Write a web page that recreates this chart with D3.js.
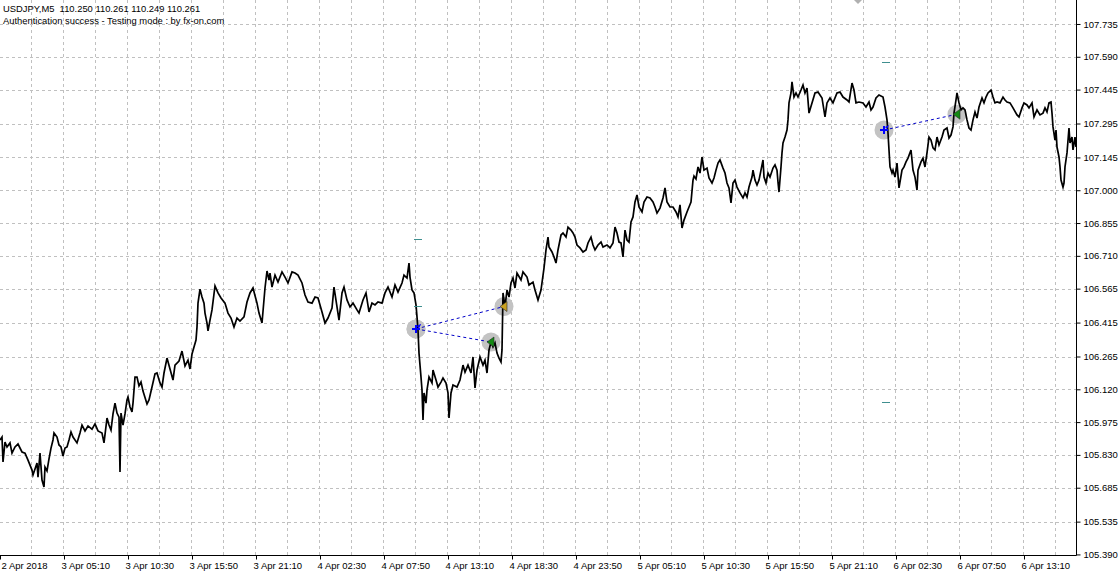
<!DOCTYPE html>
<html><head><meta charset="utf-8">
<script src="https://cdn.jsdelivr.net/npm/d3@7"></script>
<style>
body{margin:0;background:#fff}
svg{display:block}
text{font-family:"Liberation Sans",Arial,sans-serif}
</style>
</head><body>
<svg id="c" width="1118" height="576"></svg>
<script>
// ---------- DATA ----------
const headerLine1 = "USDJPY,M5  110.250 110.261 110.249 110.261";
const headerLine2 = "Authentication success - Testing mode : by fx-on.com";

// price axis labels
const priceTicks = [105.390,105.535,105.685,105.830,105.975,106.120,106.265,106.415,106.565,
  106.710,106.855,107.000,107.145,107.295,107.445,107.590,107.735];

// time axis: bar index (M5 bars from 2 Apr 23:50) and labels
const timeTickBars = [0,64,128,192,256,320,384,448,512,576,640,704,768,832,896,960,1024];
const timeLabels = ["2 Apr 2018","3 Apr 05:10","3 Apr 10:30","3 Apr 15:50","3 Apr 21:10",
  "4 Apr 02:30","4 Apr 07:50","4 Apr 13:10","4 Apr 18:30","4 Apr 23:50","5 Apr 05:10",
  "5 Apr 10:30","5 Apr 15:50","5 Apr 21:10","6 Apr 02:30","6 Apr 07:50","6 Apr 13:10"];

// USDJPY M5 closes: [bar, price]
const closes = [
[0,105.896],[2,105.909],[3,105.799],[5,105.887],[7,105.865],[10,105.883],[12,105.838],[15,105.865],[18,105.878],[22,105.843],
[25,105.838],[28,105.807],[32,105.763],[33,105.741],[37,105.794],[38,105.732],[40,105.838],[42,105.719],[44,105.688],[45,105.776],
[47,105.759],[49,105.812],[51,105.860],[53,105.896],[54,105.927],[57,105.909],[59,105.874],[61,105.865],[63,105.825],[65,105.860],
[67,105.865],[69,105.896],[71,105.931],[73,105.909],[77,105.883],[80,105.927],[82,105.962],[85,105.936],[88,105.958],[92,105.944],
[95,105.967],[98,105.936],[102,105.927],[104,105.883],[107,105.993],[109,105.962],[111,105.940],[113,106.011],[115,106.059],[117,106.015],
[119,105.997],[120,105.754],[121,106.015],[123,105.962],[125,106.011],[127,106.073],[128,106.086],[130,106.042],[132,106.020],[133,106.059],
[135,106.174],[137,106.174],[139,106.135],[141,106.152],[143,106.112],[147,106.055],[149,106.073],[152,106.130],[155,106.188],[157,106.192],
[160,106.148],[162,106.130],[164,106.192],[167,106.258],[170,106.210],[173,106.161],[175,106.227],[179,106.245],[182,106.289],[185,106.223],
[188,106.249],[190,106.210],[192,106.276],[194,106.307],[196,106.338],[197,106.395],[198,106.501],[200,106.563],[202,106.528],[204,106.501],
[205,106.457],[207,106.413],[208,106.378],[210,106.426],[212,106.471],[215,106.577],[218,106.546],[221,106.524],[225,106.501],[228,106.457],
[231,106.435],[234,106.395],[237,106.435],[240,106.422],[244,106.440],[247,106.506],[250,106.546],[253,106.568],[257,106.501],[259,106.457],
[262,106.413],[265,106.568],[267,106.643],[269,106.603],
[270,106.634],[272,106.572],[275,106.625],[278,106.594],[282,106.639],[285,106.616],[288,106.590],[292,106.639],[295,106.634],[298,106.625],
[302,106.590],[305,106.537],[308,106.506],[312,106.501],[315,106.528],[318,106.524],[322,106.462],[325,106.413],[328,106.435],[332,106.479],
[334,106.572],[337,106.484],[339,106.426],[342,106.546],[344,106.572],[347,106.515],[350,106.484],[353,106.501],[357,106.471],[359,106.457],
[363,106.515],[366,106.546],[369,106.462],[372,106.501],[375,106.493],[378,106.506],[382,106.501],[385,106.546],[388,106.572],[392,106.528],
[395,106.581],[398,106.550],[402,106.590],[404,106.625],[407,106.612],[409,106.678],[410,106.616],[412,106.559],[414,106.546],[416,106.493],
[417,106.440],[418,106.382],[419,106.280],[421,106.174],[422,106.117],[423,105.984],[424,106.104],[426,106.059],[427,106.117],[429,106.174],
[432,106.148],[433,106.205],[436,106.161],[438,106.130],[441,106.152],[443,106.170],[446,106.148],[448,106.104],[449,105.993],[451,106.104],
[453,106.139],[457,106.130],[460,106.161],[463,106.227],[465,106.196],[468,106.227],[471,106.192],[473,106.263],[475,106.126],[477,106.205],
[480,106.263],[483,106.227],[485,106.249],[487,106.192],[489,106.294],[491,106.329],[493,106.307],[495,106.325],[497,106.280],[499,106.258],
[501,106.241],[502,106.294],[503,106.546],[505,106.484],[507,106.559],[509,106.528],[511,106.590],[513,106.612],[515,106.568],[517,106.634],
[521,106.603],[523,106.639],[527,106.616],[529,106.581],[533,106.594],[535,106.559],[538,106.515],[541,106.559],
[544,106.656],[546,106.736],[548,106.793],[549,106.749],[552,106.727],[554,106.705],[556,106.678],[558,106.736],[561,106.802],[563,106.811],
[566,106.793],[568,106.837],[571,106.824],[573,106.811],[575,106.793],[577,106.758],[580,106.745],[583,106.727],[586,106.736],[588,106.767],
[591,106.793],[593,106.758],[595,106.736],[598,106.758],[601,106.771],[603,106.749],[607,106.758],[610,106.745],[613,106.767],[615,106.837],
[617,106.811],[619,106.771],[621,106.767],[623,106.705],[625,106.824],[627,106.780],[629,106.771],[631,106.860],[633,106.882],[635,106.948],
[637,106.979],[639,106.926],[642,106.904],[644,106.948],[647,106.970],[650,106.966],[653,106.948],[655,106.926],[657,106.899],[660,106.921],
[663,106.966],[665,107.010],[667,106.948],[670,106.926],[673,106.926],[676,106.904],[678,106.882],[680,106.935],[682,106.833],[684,106.868],
[687,106.904],[689,106.926],[691,106.948],[693,107.045],[694,107.063],[696,107.050],[698,107.103],[700,107.076],[702,107.147],[704,107.089],
[707,107.098],[709,107.054],[712,107.032],[714,107.054],[716,107.089],[718,107.120],[720,107.134],[723,107.098],[725,107.076],[727,107.032],
[729,107.010],[731,106.944],[733,107.032],[735,107.045],[737,107.014],[740,106.988],[743,106.966],[745,106.988],[747,106.970],[749,107.014],
[752,107.058],[753,107.089],[755,107.045],[757,107.023],[759,107.045],[761,107.089],[763,107.134],[764,107.058],[766,107.032],[768,107.076],
[770,107.058],[773,107.098],[775,107.112],[777,107.089],[778,107.036],[779,106.992],[781,107.103],[782,107.165],[783,107.209],[785,107.235],
[787,107.266],[788,107.311],[789,107.386],[791,107.430],[792,107.479],[794,107.412],[796,107.430],[798,107.412],[801,107.443],[803,107.465],
[805,107.430],[807,107.452],[809,107.341],[812,107.386],[815,107.430],[818,107.434],[822,107.408],[825,107.324],[827,107.386],[830,107.408],
[833,107.386],[837,107.430],[840,107.434],[843,107.412],[847,107.399],[849,107.390],[852,107.474],[854,107.443],[856,107.386],[859,107.390],
[863,107.386],[866,107.368],[869,107.390],[871,107.355],[873,107.368],[876,107.408],[879,107.421],[883,107.412],[885,107.368],[887,107.311],
[888,107.253],[889,107.178],[890,107.103],[892,107.076],[893,107.089],[895,107.058],[897,107.120],[899,107.010],[902,107.089],[904,107.103],
[906,107.125],[908,107.142],[911,107.178],[913,107.089],[915,107.058],[917,107.001],[918,107.089],[921,107.125],[923,107.142],[925,107.103],
[927,107.165],[929,107.235],[931,107.222],[933,107.187],[935,107.178],[937,107.235],[939,107.200],[942,107.235],[944,107.266],[947,107.275],
[949,107.231],[951,107.244],[953,107.280],[954,107.341],[956,107.399],[957,107.430],[959,107.386],[961,107.355],[963,107.364],[965,107.355],
[967,107.311],[969,107.275],[971,107.266],[973,107.311],[975,107.346],[977,107.319],[979,107.368],[982,107.408],[984,107.386],[986,107.412],
[988,107.430],[991,107.443],[993,107.412],[995,107.386],[997,107.390],[1000,107.386],[1003,107.412],[1005,107.399],[1007,107.390],[1010,107.386],
[1013,107.364],[1017,107.333],[1019,107.324],[1022,107.364],[1024,107.386],[1027,107.377],[1029,107.364],[1032,107.386],[1034,107.324],[1037,107.355],
[1040,107.333],[1043,107.341],[1045,107.364],[1047,107.346],[1049,107.386],[1051,107.390],[1052,107.341],[1053,107.280],[1055,107.222],[1056,107.266],
[1057,107.191],[1059,107.147],[1060,107.103],[1061,107.045],[1063,107.014],[1064,107.032],[1065,107.103],[1067,107.165],[1069,107.275],[1070,107.209],
[1072,107.235],[1073,107.178],[1075,107.235],[1076,107.191]
];

// trades (tester arrows)
const tradeOpenBars   = [416, 416, 884];
const tradeOpenPrices = [106.387, 106.387, 107.266];
const tradeCloseBars   = [504, 491, 957];
const tradeClosePrices = [106.486, 106.329, 107.336];
const tradeCloseKind   = ["profit", "loss", "loss"];
// stop / target levels (short dashes)
const levelBars   = [418, 418, 886, 886];
const levelPrices = [106.784, 106.487, 107.567, 106.064];

// ---------- DRAW ----------
const svg = d3.select("#c");
const plotRight = 1076, plotBottom = 555;
const x = d3.scaleLinear().domain([0, 1076]).range([0, plotRight]);
const y = d3.scaleLinear().domain([105.3875, 107.841]).range([plotBottom, 0]);
const gridColor = "#c0c0c0";

// grid
const g = svg.append("g");
g.selectAll("line.h").data(priceTicks.filter(p => p > 105.4)).join("line")
  .attr("x1", 0).attr("x2", plotRight)
  .attr("y1", d => Math.round(y(d)) + 0.5).attr("y2", d => Math.round(y(d)) + 0.5)
  .attr("stroke", gridColor).attr("stroke-dasharray", "3,3");
g.selectAll("line.v").data(d3.range(32, 1076, 32)).join("line")
  .attr("x1", d => Math.round(x(d)) - 0.5).attr("x2", d => Math.round(x(d)) - 0.5)
  .attr("y1", 0).attr("y2", plotBottom)
  .attr("stroke", gridColor).attr("stroke-dasharray", "3,3");

// header
svg.append("text").attr("x", 3).attr("y", 12).attr("font-size", 9.4).style("white-space", "pre").text(headerLine1);
svg.append("text").attr("x", 3).attr("y", 24).attr("font-size", 9.4).style("white-space", "pre").text(headerLine2);

// trade highlight circles
const openPts = tradeOpenBars.map((b, i) => [x(b), y(tradeOpenPrices[i])]);
const closePts = tradeCloseBars.map((b, i) => [x(b), y(tradeClosePrices[i])]);
const circ = svg.append("g");
[...openPts, ...closePts].forEach(p => {
  circ.append("circle").attr("cx", p[0]).attr("cy", p[1]).attr("r", 9.5).attr("fill", "#c3c3c3");
});

// price line
const line = d3.line().x(d => x(d[0])).y(d => y(d[1]));
svg.append("path").datum(closes).attr("d", line)
  .attr("fill", "none").attr("stroke", "#000").attr("stroke-width", 1.7).attr("stroke-linejoin", "miter");

// level dashes
svg.selectAll("line.lv").data(levelBars).join("line")
  .attr("x1", (d) => x(d) - 4).attr("x2", (d) => x(d) + 4)
  .attr("y1", (d, i) => Math.round(y(levelPrices[i])) + 0.5)
  .attr("y2", (d, i) => Math.round(y(levelPrices[i])) + 0.5)
  .attr("stroke", "#3f8f8f").attr("stroke-width", 1);

// dotted connecting lines
openPts.forEach((p, i) => {
  svg.append("line").attr("x1", p[0]).attr("y1", p[1]).attr("x2", closePts[i][0]).attr("y2", closePts[i][1])
    .attr("stroke", "#0000c8").attr("stroke-width", 1).attr("stroke-dasharray", "3,3");
});

// open markers (blue)
openPts.forEach(p => {
  svg.append("path").attr("transform", `translate(${p[0]},${p[1]})`)
    .attr("d", "M-4,-1H-1V-4H1V-1H4V1H1V4H-1V1H-4Z").attr("fill", "#0000ff");
  svg.append("path").attr("transform", `translate(${p[0]},${p[1]})`)
    .attr("d", "M1,-3L5,-5L3,-1Z").attr("fill", "#0000ff");
});
// close markers
closePts.forEach((p, i) => {
  const col = tradeCloseKind[i] === "profit" ? "#c8a020" : "#138a13";
  svg.append("path").attr("transform", `translate(${p[0]},${p[1]})`)
    .attr("d", "M-4,0L3,-5L3,5Z").attr("fill", col).attr("stroke", "#2a2a2a").attr("stroke-width", 0.6);
});
// small marker cut at the top edge
svg.append("path").attr("d", `M${x(858)-4},0L${x(858)},4L${x(858)+4},0Z`).attr("fill", "#b0b0b0");

// axes
const yAxis = d3.axisRight(y).tickValues(priceTicks).tickSize(4).tickSizeOuter(0)
  .tickFormat(d3.format(".3f"));
const ya = svg.append("g").attr("transform", `translate(${plotRight + 0.5},0)`).call(yAxis);
ya.selectAll("text").attr("font-size", 9.5).attr("fill", "#000").attr("x", 7);
ya.select(".domain").attr("d", `M0,0V${plotBottom + 0.5}`).attr("stroke", "#000");

const xAxis = d3.axisBottom(x).tickValues(timeTickBars).tickSize(4).tickSizeOuter(0)
  .tickFormat((d, i) => timeLabels[i]);
const xa = svg.append("g").attr("transform", `translate(0,${plotBottom + 0.5})`).call(xAxis);
xa.selectAll("text").attr("font-size", 9.5).attr("fill", "#000").attr("text-anchor", "start")
  .attr("dx", (d, i) => i === 0 ? 1 : -3).attr("y", 7);
xa.select(".domain").attr("d", `M0,0H${plotRight + 0.5}`).attr("stroke", "#000");
xa.selectAll(".tick line").attr("stroke", "#000");
ya.selectAll(".tick line").attr("stroke", "#000");
svg.selectAll(".tick text").attr("font-family", "'Liberation Sans',Arial,sans-serif");
</script>
</body></html>
